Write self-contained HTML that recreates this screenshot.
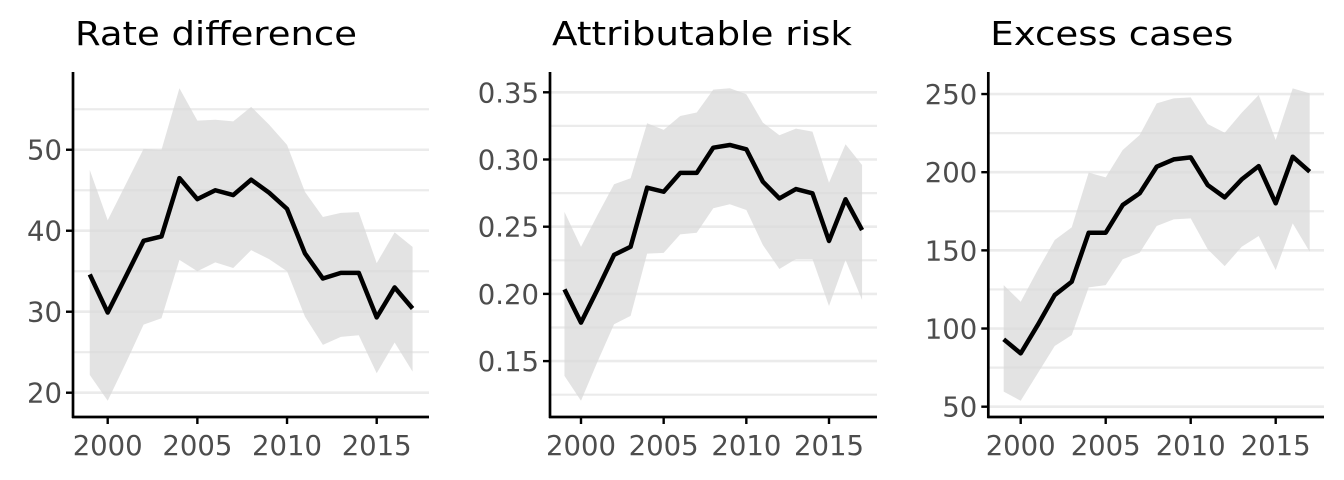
<!DOCTYPE html>
<html><head><meta charset="utf-8"><style>
body{margin:0;background:#fff;}
svg{display:block;font-family:"DejaVu Sans","Liberation Sans",sans-serif;}
</style></head><body>
<svg id="chart" width="1344" height="480" viewBox="0 0 1344 480" xmlns="http://www.w3.org/2000/svg"></svg>
<script>
const years = [1999,2000,2001,2002,2003,2004,2005,2006,2007,2008,2009,2010,2011,2012,2013,2014,2015,2016,2017];
const xTicks = [2000,2005,2010,2015];
const rdEst = [34.6,29.9,34.3,38.75,39.3,46.5,43.9,45.0,44.4,46.3,44.7,42.7,37.2,34.1,34.8,34.8,29.3,33.0,30.4];
const rdUpper = [47.5,41.3,45.7,50.1,50.0,57.6,53.6,53.7,53.5,55.3,53.1,50.6,44.8,41.7,42.2,42.3,36.0,39.8,38.0];
const rdLower = [22.2,19.0,23.6,28.4,29.2,36.4,35.0,36.1,35.4,37.6,36.5,35.0,29.4,25.9,26.9,27.1,22.4,26.2,22.6];
const rdTicks = [20,30,40,50];
const rdTickLabels = ["20","30","40","50"];
const arEst = [0.2034,0.1786,0.2034,0.229,0.2351,0.279,0.276,0.290,0.290,0.3088,0.3108,0.3076,0.2835,0.271,0.278,0.2748,0.2394,0.2704,0.2475];
const arUpper = [0.261,0.235,0.2587,0.2816,0.286,0.327,0.322,0.3324,0.335,0.352,0.353,0.3485,0.3274,0.318,0.323,0.3207,0.2827,0.3113,0.2959];
const arLower = [0.139,0.1205,0.1496,0.1774,0.1836,0.230,0.2305,0.2443,0.2455,0.2637,0.2667,0.2624,0.2364,0.2185,0.226,0.226,0.191,0.2252,0.1955];
const arTicks = [0.15,0.20,0.25,0.30,0.35];
const arTickLabels = ["0.15","0.20","0.25","0.30","0.35"];
const ecEst = [93.1,84.1,102.2,121.4,129.9,161.3,161.3,179,186.5,203.5,208.2,209.5,191.8,183.9,195.4,203.9,180.1,209.9,200.3];
const ecUpper = [127.8,117.1,137.4,156.6,164.7,199.7,196.7,214.2,223.8,244.0,247.2,247.9,230.8,225.2,238.0,249.4,220.6,253.6,250.4];
const ecLower = [59.6,53.8,71.3,88.8,95.8,126.3,127.8,144.3,148.5,165.6,169.8,170.5,150.7,139.9,152.3,159.2,137.4,167.3,149.1];
const ecTicks = [50,100,150,200,250];
const ecTickLabels = ["50","100","150","200","250"];

const NS="http://www.w3.org/2000/svg";
const svg=document.getElementById('chart');
function mk(tag,attrs,parent){const e=document.createElementNS(NS,tag);for(const k in attrs)e.setAttribute(k,attrs[k]);(parent||svg).appendChild(e);return e;}

const panels=[
 {key:'rate-difference',title:'Rate difference',ax:73,right:429,x0:107.7,x1:376.7,ymin:17.0,ymax:59.6,est:rdEst,up:rdUpper,lo:rdLower,ticks:rdTicks,labels:rdTickLabels,tw:282},
 {key:'attributable-risk',title:'Attributable risk',ax:550,right:877,x0:581,x1:829,ymin:0.1084,ymax:0.3651,est:arEst,up:arUpper,lo:arLower,ticks:arTicks,labels:arTickLabels,tw:300},
 {key:'excess-cases',title:'Excess cases',ax:988.3,right:1324,x0:1020.7,x1:1275.7,ymin:43.4,ymax:264.1,est:ecEst,up:ecUpper,lo:ecLower,ticks:ecTicks,labels:ecTickLabels,tw:243}
];
const plotTop=72,plotBottom=417;
panels.forEach(p=>{
  const g=mk('g',{});
  
  
  const xs=v=>p.x0+(v-2000)*(p.x1-p.x0)/15;
  const ys=v=>plotBottom-(v-p.ymin)*(plotBottom-plotTop)/(p.ymax-p.ymin);
  const step=p.ticks[1]-p.ticks[0];
  const grid=[];
  p.ticks.forEach(t=>{grid.push([t,2.6]);grid.push([t+step/2,2.2]);});
  grid.push([p.ticks[0]-step/2,2.2]);
  grid.forEach(([v,w])=>{
    if(v<p.ymin||v>p.ymax)return;
    const l=mk('line',{x1:p.ax,x2:p.right,y1:ys(v),y2:ys(v),stroke:'#ebebeb','stroke-width':w},g);
    
    
  });
  let d='M'+years.map((y,i)=>xs(y)+','+ys(p.up[i])).join('L');
  d+='L'+years.slice().reverse().map((y,j)=>{const i=years.length-1-j;return xs(y)+','+ys(p.lo[i]);}).join('L')+'Z';
  const rib=mk('path',{d:d,fill:'#d9d9d9','fill-opacity':0.75},g);
  
  
  const ln=mk('polyline',{points:years.map((y,i)=>xs(y)+','+ys(p.est[i])).join(' '),fill:'none',stroke:'#000','stroke-width':4.5,'stroke-linejoin':'round'},g);
  
  
  const ya=mk('line',{x1:p.ax,x2:p.ax,y1:plotTop,y2:plotBottom+1,stroke:'#000','stroke-width':2.7},g);
  
  
  const xa=mk('line',{x1:p.ax-1,x2:p.right,y1:plotBottom,y2:plotBottom,stroke:'#000','stroke-width':2.7},g);
  
  
  p.ticks.forEach((t,i)=>{
    const y=ys(t);
    const tk=mk('line',{x1:p.ax-7,x2:p.ax,y1:y,y2:y,stroke:'#000','stroke-width':2.4},g);
    
    
    const tx=mk('text',{x:p.ax-11,y:y+10,'text-anchor':'end','font-size':27.5,fill:'#4d4d4d'},g);
    tx.textContent=p.labels[i];
    
    
  });
  xTicks.forEach(t=>{
    const x=xs(t);
    const tk=mk('line',{x1:x,x2:x,y1:plotBottom,y2:plotBottom+7,stroke:'#000','stroke-width':2.4},g);
    
    
    const tx=mk('text',{x:x,y:455,'text-anchor':'middle','font-size':27.5,fill:'#4d4d4d'},g);
    tx.textContent=String(t);
    
    
  });
  const ti=mk('text',{x:p.ax+2,y:45,'font-size':33,fill:'#000',textLength:p.tw,lengthAdjust:'spacingAndGlyphs'},g);
  ti.textContent=p.title;
  
  
});
</script>
</body></html>
